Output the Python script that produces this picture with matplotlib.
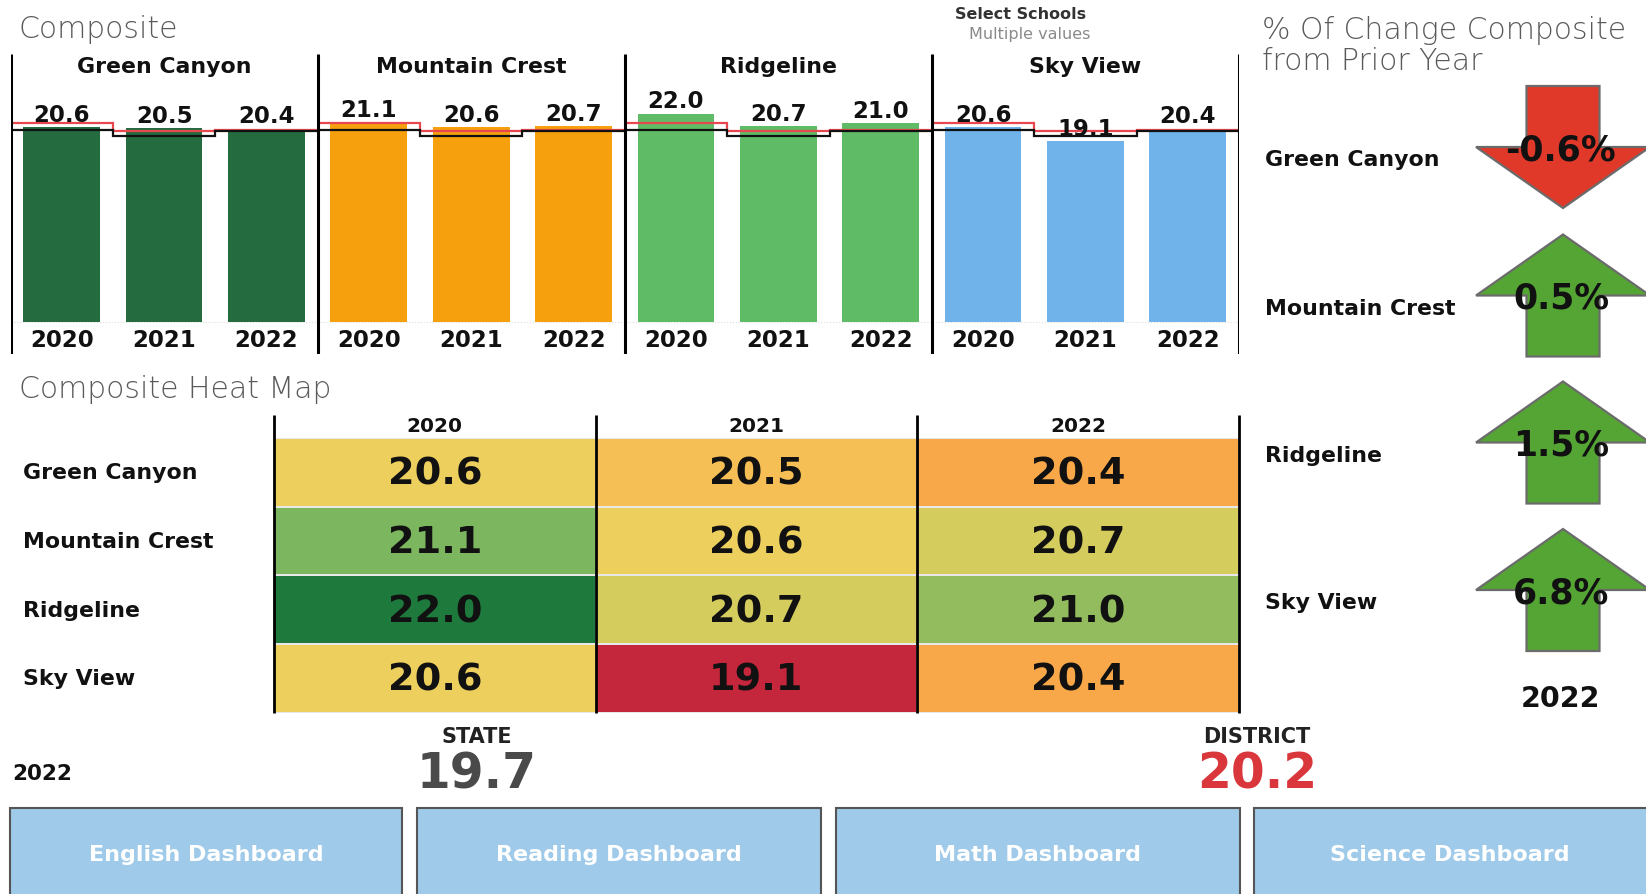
import matplotlib
matplotlib.use("Agg")
import matplotlib.pyplot as plt
import numpy as np
from matplotlib.colors import LinearSegmentedColormap, Normalize
from matplotlib.patches import Polygon, Rectangle

# ---------------- data ----------------
schools = ["Green Canyon", "Mountain Crest", "Ridgeline", "Sky View"]
years = ["2020", "2021", "2022"]
green_canyon = [20.6, 20.5, 20.4]
mountain_crest = [21.1, 20.6, 20.7]
ridgeline = [22.0, 20.7, 21.0]
sky_view = [20.6, 19.1, 20.4]
district_line = [21.0, 20.2, 20.3]   # red reference line
state_line = [20.3, 19.7, 20.15]     # black reference line
pct_change = [-0.6, 0.5, 1.5, 6.8]
pct_year = "2022"
state_2022 = 19.7
district_2022 = 20.2
summary_year = "2022"
buttons = ["English Dashboard", "Reading Dashboard", "Math Dashboard", "Science Dashboard"]
school_colors = ["#246b3f", "#f5a00c", "#5fbb66", "#70b2ea"]

plt.rcParams["font.family"] = ["DejaVu Sans"]

W, H = 1646, 895
fig = plt.figure(figsize=(W / 100, H / 100), dpi=100)
fig.patch.set_facecolor("white")


def rect(x0, y0, x1, y1):
    return [x0 / W, 1 - y1 / H, (x1 - x0) / W, (y1 - y0) / H]


# overlay axes in pixel coordinates for free text / shapes
ov = fig.add_axes([0, 0, 1, 1])
ov.set_xlim(0, W)
ov.set_ylim(H, 0)
ov.axis("off")
ov.patch.set_alpha(0)

title_kw = dict(fontsize=21.5, color="#5a5a5a", fontweight="light")
ov.text(19, 29, "Composite", ha="left", va="center", **title_kw)
ov.text(19, 390, "Composite Heat Map", ha="left", va="center", **title_kw)
ov.text(1262, 30, "% Of Change Composite", ha="left", va="center", **title_kw)
ov.text(1262, 61, "from Prior Year", ha="left", va="center", **title_kw)
ov.text(1021, 14, "Select Schools", ha="center", va="center", fontsize=11.5,
        color="#333333", fontweight="semibold")
ov.text(1030, 34, "Multiple values", ha="center", va="center", fontsize=11.5,
        color="#8a8a8a")

# ---------------- composite bar chart ----------------
zero_px, px_per_unit, top_px, bot_px = 323.3, 9.47, 55, 355
ymin = -(bot_px - zero_px) / px_per_unit
ymax = (zero_px - top_px) / px_per_unit
ax = fig.add_axes(rect(10.5, top_px, 1239, bot_px))
ax.set_xlim(0, 12)
ax.set_ylim(ymin, ymax)
ax.axis("off")
ax.axhline(0, color="#dddddd", lw=0.8, ls=":", zorder=1)

scores = [green_canyon, mountain_crest, ridgeline, sky_view]
header_y = (zero_px - 67) / px_per_unit
year_y = (zero_px - 341) / px_per_unit
for p, (name, vals, col) in enumerate(zip(schools, scores, school_colors)):
    xs = np.arange(3) + 3 * p + 0.5
    ax.bar(xs, vals, width=0.75, color=col, zorder=2)
    for x, v in zip(xs, vals):
        ax.text(x, v + 0.7, f"{v:.1f}", ha="center", va="baseline",
                fontsize=16.5, fontweight="bold", color="#111111", zorder=4)
    edges = np.arange(4) + 3 * p
    ax.stairs(district_line, edges, baseline=None, color="#e8474f", lw=1.6, zorder=3)
    ax.stairs(state_line, edges, baseline=None, color="#111111", lw=1.6, zorder=3)
    ax.text(3 * p + 1.5, header_y, name, ha="center", va="center",
            fontsize=15.8, fontweight="bold", color="#111111")
    for x, yr in zip(xs, years):
        ax.text(x, year_y, yr, ha="center", va="center", fontsize=16.5,
                fontweight="bold", color="#111111")
ax.vlines(np.arange(0, 13, 3), ymin, ymax, color="black", lw=2.2, zorder=5)

# ---------------- heat map ----------------
hm_x0, hm_y0, hm_x1, hm_y1 = 274, 438.8, 1238.7, 713.8
ax2 = fig.add_axes(rect(hm_x0, hm_y0, hm_x1, hm_y1))
data = np.array(scores)
cmap = LinearSegmentedColormap.from_list(
    "tab_rdylgn",
    [(0.0, "#c4263b"), (0.448, "#f8a848"), (0.483, "#f6bf56"), (0.517, "#edcf5e"),
     (0.552, "#d6cc5e"), (0.69, "#7cb65f"), (1.0, "#1e7a3c")])
norm = Normalize(data.min(), data.max())
ax2.pcolormesh(data, cmap=cmap, norm=norm, edgecolors="#e8e8e8", linewidth=1.2)
ax2.set_xlim(0, 3)
ax2.set_ylim(4, 0)
ax2.axis("off")
row_px = (hm_y1 - hm_y0) / 4
for i in range(4):
    for j in range(3):
        ax2.text(j + 0.5, i + 0.52, f"{data[i, j]:.1f}", ha="center", va="center",
                 fontsize=27.5, fontweight="bold", color="#111111")
ax2.vlines([0, 1, 2, 3], -(hm_y0 - 415.7) / row_px, 4, color="black", lw=2,
           clip_on=False)
for j, yr in enumerate(years):
    ax2.text(j + 0.5, -(hm_y0 - 427) / row_px, yr, ha="center", va="center",
             fontsize=14.5, fontweight="bold", color="#111111", clip_on=False)
for i, name in enumerate(schools):
    ov.text(23, hm_y0 + row_px * (i + 0.5), name, ha="left", va="center",
            fontsize=15.8, fontweight="bold", color="#111111")

# ---------------- % change arrows ----------------
cx, head_hw, shaft_hw, half_len = 1563, 87, 36.5, 61
centers = [148, 296.5, 443.5, 591]
for name, pct, c in zip(schools, pct_change, centers):
    d = 1 if pct >= 0 else -1
    pts = [(cx, c - d * half_len), (cx + head_hw, c), (cx + shaft_hw, c),
           (cx + shaft_hw, c + d * half_len), (cx - shaft_hw, c + d * half_len),
           (cx - shaft_hw, c), (cx - head_hw, c)]
    color = "#55a535" if d > 0 else "#e0392a"
    ov.add_patch(Polygon(pts, closed=True, facecolor=color, edgecolor="#6b6b6b",
                         lw=1.6, joinstyle="miter", zorder=3))
    ov.text(cx - 2, c + 2, f"{pct:.1f}%", ha="center", va="center", fontsize=25,
            fontweight="bold", color="#111111", zorder=4)
    ov.text(1265, c + 12, name, ha="left", va="center", fontsize=15.8,
            fontweight="bold", color="#111111")
ov.text(cx - 2, 699, pct_year, ha="center", va="center", fontsize=20.5,
        fontweight="bold", color="#111111")

# ---------------- state / district ----------------
ov.text(12, 774, summary_year, ha="left", va="center", fontsize=15.5,
        fontweight="bold", color="#111111")
ov.text(477, 737, "STATE", ha="center", va="center", fontsize=15,
        fontweight="bold", color="#222222")
ov.text(477, 775, f"{state_2022:.1f}", ha="center", va="center", fontsize=35,
        fontweight="bold", color="#4a4a4a")
ov.text(1257, 737, "DISTRICT", ha="center", va="center", fontsize=15,
        fontweight="bold", color="#222222")
ov.text(1257, 775, f"{district_2022:.1f}", ha="center", va="center", fontsize=35,
        fontweight="bold", color="#d9373b")

# ---------------- buttons ----------------
btn_x = [(10.5, 402), (416.7, 821), (835.6, 1239.7), (1254.4, 1652)]
for (x0, x1), label in zip(btn_x, buttons):
    ov.add_patch(Rectangle((x0, 809), x1 - x0, 100, facecolor="#9fcaea",
                           edgecolor="#555555", lw=1.5, zorder=2))
    ov.text((x0 + min(x1, W)) / 2, 855, label,
            ha="center", va="center", fontsize=16, fontweight="bold",
            color="white", zorder=3)

fig.savefig("out.png", dpi=100, facecolor="white")
